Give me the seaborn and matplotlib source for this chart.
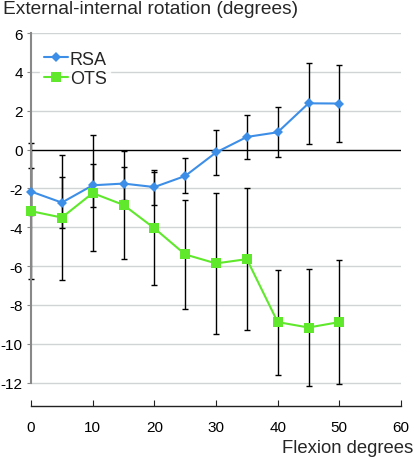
import pandas as pd
import numpy as np
import matplotlib
matplotlib.use("Agg")
import matplotlib.pyplot as plt
import seaborn as sns

# values
flexion = [0, 5, 10, 15, 20, 25, 30, 35, 40, 45, 50]
rsa_mean = [-2.16, -2.73, -1.84, -1.75, -1.93, -1.36, -0.15, 0.65, 0.89, 2.38, 2.37]
rsa_sd = [1.2, 1.3, 1.1, 0.85, 0.9, 0.9, 1.18, 1.15, 1.28, 2.07, 2.0]
ots_mean = [-3.17, -3.5, -2.24, -2.85, -4.05, -5.4, -5.86, -5.64, -8.88, -9.16, -8.88]
ots_sd = [3.5, 3.2, 3.0, 2.8, 2.9, 2.8, 3.64, 3.65, 2.7, 3.0, 3.2]
series = ["RSA", "OTS"]
colors = ["#3d8ee6", "#5fe82c"]
y_ticks = [-12, -10, -8, -6, -4, -2, 0, 2, 4, 6]
x_ticks = [0, 10, 20, 30, 40, 50, 60]

df = pd.DataFrame({
    "flexion": flexion * 2,
    "rotation": rsa_mean + ots_mean,
    "sd": rsa_sd + ots_sd,
    "group": ["RSA"] * len(flexion) + ["OTS"] * len(flexion),
})

sns.set_style("white")
plt.rcParams["font.family"] = ["Liberation Sans", "DejaVu Sans"]
plt.rcParams["axes.unicode_minus"] = False

fig = plt.figure(figsize=(4.15, 4.6), dpi=100)
ax = fig.add_axes([31 / 415, 53 / 460, 370 / 415, 373 / 460])

# grid lines
for t in y_ticks:
    if t != 0:
        ax.axhline(t, color="#d0d4d4", lw=1, zorder=0)
ax.axhline(0, color="black", lw=1, zorder=1)

# error bars
for name in series:
    sub = df[df["group"] == name]
    ax.errorbar(sub["flexion"], sub["rotation"], yerr=sub["sd"], fmt="none",
                ecolor="black", elinewidth=1, capsize=2, capthick=1, zorder=2,
                clip_on=False)

sns.lineplot(data=df, x="flexion", y="rotation", hue="group", style="group",
             hue_order=series, style_order=series, palette=colors,
             markers={"RSA": "D", "OTS": "s"}, dashes=False, lw=1.5,
             markersize=5, markeredgewidth=0, ax=ax, zorder=3, clip_on=False)
# bigger squares for OTS
for line in ax.lines:
    if line.get_marker() == "s":
        line.set_markersize(7.5)

ax.set_xlim(0, 60)
ax.set_ylim(-13.2, 6)
ax.set_yticks(y_ticks)
ax.set_yticklabels([str(t) for t in y_ticks])
ax.set_xticks(x_ticks)
ax.set_xlabel("")
ax.set_ylabel("")

for s in ["top", "right"]:
    ax.spines[s].set_visible(False)
ax.spines["left"].set_bounds(-12, 6)
ax.spines["left"].set_color("#888888")
ax.spines["left"].set_linewidth(1.5)
ax.spines["bottom"].set_color("#222222")
ax.spines["bottom"].set_linewidth(1)
ax.tick_params(axis="y", direction="out", length=3, color="#888888",
               labelsize=11, pad=3, left=True, labelcolor="black")
ax.tick_params(axis="x", direction="in", length=4, color="#222222",
               labelsize=11, pad=10, bottom=True, labelcolor="black")

handles, labels = ax.get_legend_handles_labels()
leg = ax.legend(handles, labels, loc="upper left", bbox_to_anchor=(0.025, 0.962),
                frameon=True, fontsize=13, handlelength=1.35, handletextpad=0.08,
                labelspacing=0.15, borderpad=0.2, borderaxespad=0)
leg.get_frame().set_facecolor("white")
leg.get_frame().set_edgecolor("white")

fig.text(3 / 415, 1 - 1 / 460, "External-internal rotation (degrees)",
         ha="left", va="top", fontsize=13.8)
fig.text(413 / 415, 1 - 449 / 460, "Flexion degrees", ha="right",
         va="center", fontsize=13.3)

fig.savefig("out.png", dpi=100)
